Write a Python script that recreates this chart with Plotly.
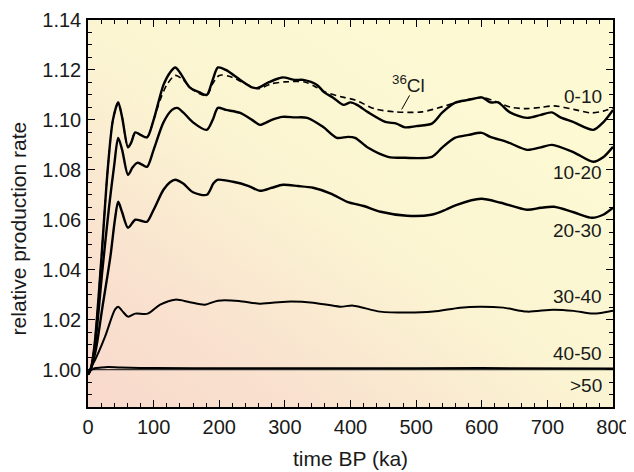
import base64
import plotly.graph_objects as go

# time BP (ka) / relative production rate
x_0_10 = [0, 4, 10, 20, 30, 38, 46, 52, 61, 66, 72, 80, 90, 100, 115, 125, 133, 140, 155, 170, 181, 190, 198, 210, 232,
          250, 259, 275, 296, 315, 328, 349, 360, 373, 389, 400, 410, 427, 453, 470, 483, 500, 524, 540, 559, 580, 600,
          613, 625, 643, 669, 690, 707, 720, 739, 770, 785, 800]
y_0_10 = [0.998, 1.000, 1.010, 1.043, 1.080, 1.100, 1.107, 1.101, 1.089, 1.091, 1.095, 1.094, 1.093, 1.100, 1.114,
          1.119, 1.121, 1.119, 1.113, 1.111, 1.110, 1.116, 1.121, 1.120, 1.116, 1.113, 1.1128, 1.115, 1.117, 1.116,
          1.116, 1.114, 1.111, 1.109, 1.106, 1.107, 1.106, 1.103, 1.0992, 1.0985, 1.097, 1.0975, 1.0985, 1.103,
          1.1068, 1.108, 1.109, 1.107, 1.107, 1.103, 1.1008, 1.102, 1.103, 1.101, 1.0992, 1.096, 1.099, 1.104]

x_cl36 = [0, 4, 10, 20, 30, 38, 46, 52, 61, 66, 72, 80, 90, 100, 110, 120, 133, 145, 160, 181, 190, 200, 215, 240,
          259, 280, 300, 330, 345, 363, 390, 407, 437, 468, 509, 539, 559, 580, 600, 620, 645, 669, 690, 710, 740,
          767, 785, 800]
y_cl36 = [0.998, 1.000, 1.010, 1.043, 1.080, 1.100, 1.107, 1.101, 1.089, 1.091, 1.095, 1.094, 1.093, 1.100, 1.108,
          1.114, 1.1178, 1.116, 1.112, 1.1098, 1.1145, 1.1178, 1.1175, 1.1145, 1.1125, 1.1145, 1.1152, 1.1152,
          1.1135, 1.111, 1.109, 1.108, 1.1044, 1.1032, 1.1032, 1.1052, 1.1068, 1.1082, 1.109, 1.1075, 1.105,
          1.1045, 1.105, 1.1056, 1.1042, 1.1028, 1.1035, 1.1048]

x_10_20 = [0, 4, 10, 22, 32, 40, 46, 52, 61, 68, 75, 83, 90, 100, 115, 128, 136, 145, 160, 181, 190, 198, 210, 232,
           250, 262, 280, 296, 315, 334, 358, 379, 396, 407, 427, 457, 483, 524, 540, 559, 580, 600, 613, 640, 669,
           690, 707, 740, 770, 785, 800]
y_10_20 = [0.998, 1.000, 1.008, 1.040, 1.065, 1.082, 1.0928, 1.088, 1.078, 1.081, 1.0828, 1.082, 1.0812, 1.088,
           1.099, 1.104, 1.1048, 1.103, 1.099, 1.096, 1.100, 1.1048, 1.104, 1.1028, 1.100, 1.098, 1.100, 1.1012,
           1.101, 1.1008, 1.0972, 1.0928, 1.0932, 1.0928, 1.0888, 1.0852, 1.0848, 1.0852, 1.089, 1.0928, 1.094,
           1.0948, 1.0932, 1.091, 1.088, 1.089, 1.090, 1.087, 1.0832, 1.085, 1.0892]

x_20_30 = [0, 4, 12, 22, 34, 41, 46, 52, 61, 72, 82, 90, 100, 115, 125, 133, 145, 160, 181, 191, 197, 221, 245, 262,
           280, 297, 320, 343, 370, 395, 420, 446, 486, 523, 545, 562, 599, 629, 669, 690, 710, 740, 768, 785, 800]
y_20_30 = [0.998, 1.000, 1.008, 1.025, 1.045, 1.060, 1.0672, 1.063, 1.0568, 1.060, 1.0595, 1.0592, 1.064, 1.072,
           1.075, 1.076, 1.0745, 1.071, 1.070, 1.0745, 1.076, 1.0752, 1.0735, 1.0716, 1.0728, 1.074, 1.0735, 1.0728,
           1.0705, 1.0672, 1.0655, 1.0632, 1.0616, 1.062, 1.064, 1.066, 1.0684, 1.0668, 1.064, 1.0648, 1.0652,
           1.063, 1.0608, 1.062, 1.0648]

x_30_40 = [0, 5, 11, 26, 41, 46, 52, 61, 72, 91, 110, 133, 155, 178, 198, 230, 262, 303, 343, 384, 404, 445, 486,
           526, 567, 597, 633, 669, 709, 740, 770, 800]
y_30_40 = [0.998, 1.001, 1.004, 1.0132, 1.024, 1.0252, 1.0235, 1.0212, 1.0224, 1.0224, 1.026, 1.028, 1.027, 1.026,
           1.0276, 1.0275, 1.0264, 1.0272, 1.0268, 1.0252, 1.0256, 1.0232, 1.0228, 1.0232, 1.0248, 1.0252, 1.0248,
           1.0232, 1.024, 1.0235, 1.0224, 1.0236]

x_40_50 = [0, 10, 20, 30, 50, 100, 200, 400, 600, 800]
y_40_50 = [0.999, 1.0005, 1.0008, 1.0010, 1.0008, 1.0006, 1.0005, 1.0005, 1.0006, 1.0004]

x_gt50 = [0, 800]
y_gt50 = [1.000, 1.000]

labels = ["0-10", "10-20", "20-30", "30-40", "40-50", ">50"]
label_y = [1.1095, 1.0788, 1.0555, 1.0292, 1.0065, 0.9937]

fig = go.Figure()

series = [
    (x_gt50, y_gt50, 1.3, "#333333", "solid"),
    (x_40_50, y_40_50, 2.0, "black", "solid"),
    (x_30_40, y_30_40, 2.0, "black", "solid"),
    (x_20_30, y_20_30, 2.4, "black", "solid"),
    (x_10_20, y_10_20, 2.4, "black", "solid"),
    (x_cl36, y_cl36, 1.6, "black", "6px,4px"),
    (x_0_10, y_0_10, 2.4, "black", "solid"),
]
for xs, ys, w, c, d in series:
    fig.add_trace(go.Scatter(x=xs, y=ys, mode="lines", showlegend=False,
                             line=dict(color=c, width=w, dash=d, shape="spline", smoothing=0.8)))

for lab, ly in zip(labels, label_y):
    fig.add_annotation(x=787, y=ly, text=lab, showarrow=False, xanchor="right", yanchor="middle",
                       font=dict(size=19, color="#1a1a1a"))

fig.add_annotation(x=488, y=1.1145, text="<sup>36</sup>Cl", showarrow=False, xanchor="center", yanchor="middle",
                   font=dict(size=19, color="#1a1a1a"))
fig.add_shape(type="line", x0=490, y0=1.1098, x1=478, y1=1.1042, line=dict(color="black", width=1))

# y title sits a little below the plot centre in the original
fig.add_annotation(xref="paper", yref="paper", x=-0.133, y=0.462, text="relative production rate",
                   textangle=-90, showarrow=False, xanchor="center", yanchor="middle",
                   font=dict(size=21, color="#1a1a1a"))

# peach-to-yellow background
svg = ('<svg xmlns="http://www.w3.org/2000/svg" width="100" height="100" viewBox="0 0 100 100" '
       'preserveAspectRatio="none"><defs><linearGradient id="g" x1="0" y1="1" x2="0.75" y2="0.2">'
       '<stop offset="0" stop-color="#F8D8CB"/><stop offset="0.3" stop-color="#F9E3CF"/>'
       '<stop offset="0.62" stop-color="#FBF4D2"/><stop offset="1" stop-color="#FCF9D3"/>'
       '</linearGradient></defs><rect width="100" height="100" fill="url(#g)"/></svg>')
bg = "data:image/svg+xml;base64," + base64.b64encode(svg.encode()).decode()
fig.add_layout_image(source=bg, xref="paper", yref="paper", x=0, y=1, sizex=1, sizey=1,
                     sizing="stretch", layer="below")

axis_common = dict(showgrid=False, zeroline=False, showline=True, linecolor="black", linewidth=1.5,
                   mirror="ticks", ticks="inside", ticklen=7, tickwidth=1.3, tickcolor="black",
                   automargin=False, tickfont=dict(size=20, color="#1a1a1a"))

fig.update_xaxes(range=[0, 800], tick0=0, dtick=100, ticklabelstandoff=1,
                 minor=dict(dtick=20, ticks="inside", ticklen=4, tickcolor="black", tickwidth=1.2),
                 title=dict(text="time BP (ka)", font=dict(size=21, color="#1a1a1a"), standoff=15),
                 **axis_common)
fig.update_yaxes(range=[0.985, 1.14], tick0=1.0, dtick=0.02, tickformat=".2f", ticklabelstandoff=1,
                 minor=dict(dtick=0.005, tick0=1.0, ticks="inside", ticklen=4, tickcolor="black", tickwidth=1.2),
                 **axis_common)

# page body adds an 8px offset, so the figure is drawn 8px smaller
fig.update_layout(width=626, height=464, margin=dict(l=80, r=21, t=12, b=65),
                  paper_bgcolor="white", plot_bgcolor="rgba(0,0,0,0)",
                  font=dict(family="Liberation Sans, Arial, sans-serif", color="#1a1a1a"))

fig.write_html("out.html")
